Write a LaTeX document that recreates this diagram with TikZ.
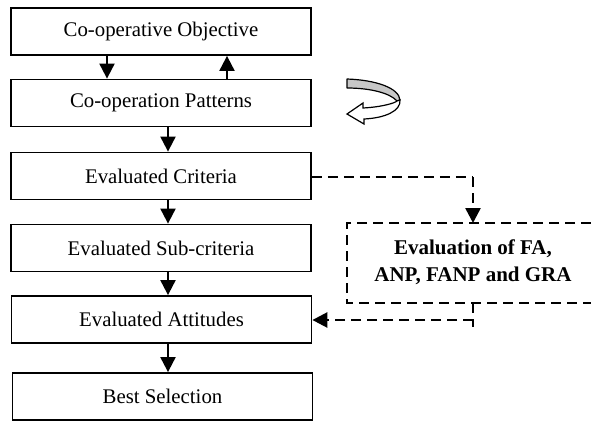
\documentclass[tikz,border=0pt]{standalone}
\usepackage{fontspec}
\setmainfont{Liberation Serif}
\usetikzlibrary{arrows.meta}
\begin{document}
\begin{tikzpicture}[x=1pt,y=-1pt,
  stepbox/.style={draw,line width=1.8pt,minimum width=300pt,minimum height=47pt,inner sep=0pt,font=\fontsize{20.8}{24}\selectfont},
  flow/.style={line width=2pt,-{Triangle[length=15pt,width=15pt]}},
  dflow/.style={line width=2.6pt,dash pattern=on 10pt off 6pt,-{Triangle[length=15pt,width=15pt]}},
  dline/.style={line width=2.6pt,dash pattern=on 10pt off 6pt}]
\useasboundingbox (0,0) rectangle (591,423);
\node[stepbox] (b1) at (161,31.5) {Co-operative Objective};
\node[stepbox] (b2) at (161,103) {Co-operation Patterns};
\node[stepbox] (b3) at (161,176) {Evaluated Criteria};
\node[stepbox] (b4) at (161,248) {Evaluated Sub-criteria};
\node[stepbox] (b5) at (161.5,319.5) {Evaluated Attitudes};
\node[stepbox] (b6) at (162.5,396.5) {Best Selection};
\draw[flow] (b1.south -| 107,0) -- (b2.north -| 107,0);
\draw[flow] (b2.north -| 227,0) -- (b1.south -| 227,0);
\draw[flow] (b2.south -| 168,0) -- (b3.north -| 168,0);
\draw[flow] (b3.south -| 168,0) -- (b4.north -| 168,0);
\draw[flow] (b4.south -| 168,0) -- (b5.north -| 168,0);
\draw[flow] (b5.south -| 168,0) -- (b6.north -| 168,0);
% evaluation box (open on the right)
\node[font=\fontsize{21}{27}\selectfont\bfseries,align=center,inner sep=0pt] (ev) at (473,262) {Evaluation of FA,\\ANP, FANP and GRA};
\coordinate (evtop) at (473,223);
\coordinate (evbot) at (473,303);
\draw[dline] (591,223) -- (347,223) -- (347,303) -- (591,303);
\coordinate (c1) at (473,177);
\coordinate (c2) at (473,320);
\coordinate (c3) at (473,327);
\draw[dline] (b3.east |- c1) -- (c1);
\draw[dflow] (c1) -- (evtop);
\draw[dline] (evbot) -- (c3);
\draw[dflow] (c2) -- (b5.east |- c2);
% curved arrow
\draw[line width=1.2pt,fill=black!22,line join=round] (347,79) .. controls (376,80) and (399,88) .. (400,100) -- (397,101) .. controls (390,93) and (370,88) .. (347,88) -- cycle;
\draw[line width=1.2pt,fill=white,line join=miter] (400,100) .. controls (401,111) and (385,118) .. (364,119) -- (364,124) -- (347,114) -- (363,103) -- (363,108) .. controls (382,107) and (395,103) .. (397,101) -- cycle;
\end{tikzpicture}
\end{document}
